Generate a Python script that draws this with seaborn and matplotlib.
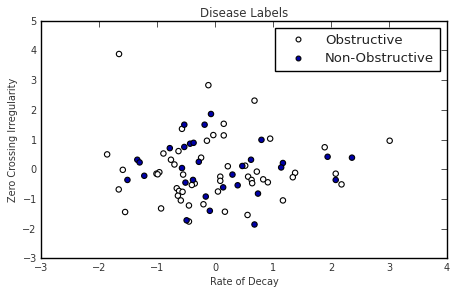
import numpy as np
import pandas as pd
import seaborn as sns
import matplotlib.pyplot as plt

# points
obs_x = [-1.655, -0.115, 0.68, 0.15, -0.57, -0.03, 0.15, -0.14, 0.95, 3.01,
         1.89, -1.86, -0.89, -0.63, -0.76, -0.70, -0.24, -1.59, -1.01, -0.96,
         -0.99, -0.55, 0.22, 0.52, 0.72, 0.09, 0.09, 0.57, 0.63, 0.64,
         0.83, 0.91, 1.38, 1.34, 2.08, 2.18, -0.35, -0.40, -1.66, -0.66,
         -0.62, -0.56, -0.64, -0.59, -0.45, -0.20, 0.05, 1.17, -0.93, -1.55,
         0.17, 0.56, -0.45]
obs_y = [3.88, 2.83, 2.31, 1.53, 1.36, 1.15, 1.14, 0.96, 1.03, 0.96,
         0.74, 0.50, 0.53, 0.61, 0.32, 0.16, 0.39, -0.02, -0.15, -0.10,
         -0.17, -0.18, 0.10, 0.12, -0.08, -0.25, -0.39, -0.25, -0.36, -0.47,
         -0.34, -0.44, -0.12, -0.27, -0.15, -0.51, -0.48, -0.53, -0.68, -0.64,
         -0.73, -0.76, -0.89, -1.05, -1.22, -1.18, -0.75, -1.05, -1.32, -1.44,
         -1.43, -1.54, -1.76]

nonobs_x = [-0.07, -0.53, -0.18, 0.80, -0.78, -0.53, -0.43, -0.37, -1.34, -1.30,
            -0.28, 1.94, 2.36, 0.62, 0.47, 1.17, 1.14, -0.57, -1.51, -1.22,
            0.30, -0.38, -0.51, 2.08, 0.14, 0.39, 0.74, -0.16, -0.09, -0.49,
            0.68]
nonobs_y = [1.86, 1.50, 1.50, 0.99, 0.71, 0.75, 0.86, 0.89, 0.32, 0.23,
            0.25, 0.42, 0.39, 0.32, 0.11, 0.21, 0.06, 0.04, -0.36, -0.22,
            -0.18, -0.36, -0.45, -0.36, -0.61, -0.54, -0.82, -0.92, -1.40, -1.72,
            -1.86]

labels = ["Obstructive", "Non-Obstructive"]

df = pd.DataFrame({
    "Rate of Decay": obs_x + nonobs_x,
    "Zero Crossing Irregularity": obs_y + nonobs_y,
    "label": [labels[0]] * len(obs_x) + [labels[1]] * len(nonobs_x),
})

sns.set_style("white")
plt.rcParams['font.family'] = ['DejaVu Sans']

fig = plt.figure(figsize=(4.53, 2.88), dpi=100)
ax = fig.add_axes([0.0905, 0.103, 0.8965, 0.825])

sns.scatterplot(data=df, x="Rate of Decay", y="Zero Crossing Irregularity",
                hue="label", hue_order=labels,
                palette={labels[0]: "white", labels[1]: "#0000aa"},
                edgecolor="black", linewidth=0.8, s=15, ax=ax)

ax.set_xlim(-3, 4)
ax.set_ylim(-3, 5)
ax.set_xticks(range(-3, 5))
ax.set_yticks(range(-3, 6))
ax.tick_params(direction="in", length=4, width=0.6, top=True, right=True,
               labelsize=7, colors="#333333", pad=3)
for sp in ax.spines.values():
    sp.set_color("black")
    sp.set_linewidth(1.0)

ax.set_xlabel("Rate of Decay", fontsize=7, color="#333333", labelpad=3)
ax.set_ylabel("Zero Crossing Irregularity", fontsize=7, color="#333333", labelpad=3)
ax.set_title("Disease Labels", fontsize=8.5, color="#333333", pad=3)

handles, labs = ax.get_legend_handles_labels()
leg = ax.legend(handles, labs, loc="upper right", fontsize=9.5, frameon=True,
                fancybox=False, edgecolor="black", framealpha=1,
                handlelength=2.5, handletextpad=0.8, borderpad=0.45,
                labelspacing=0.4, borderaxespad=0.55, markerscale=0.9)
leg.get_frame().set_linewidth(1.0)
for t in leg.get_texts():
    t.set_color("#222222")

fig.savefig("out.png", dpi=100)
